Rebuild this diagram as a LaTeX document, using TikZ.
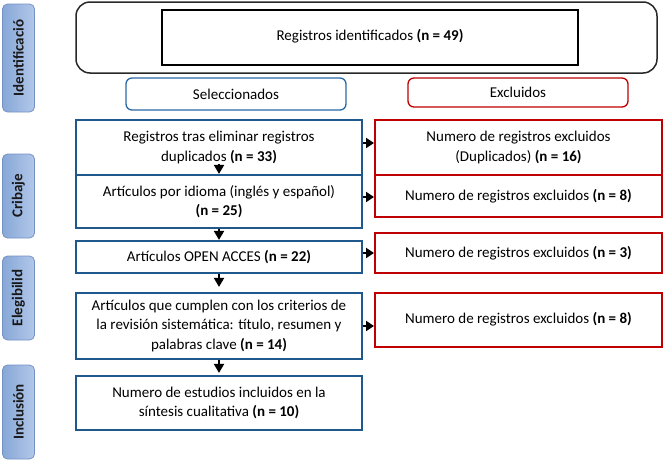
\documentclass[tikz,border=0pt]{standalone}
\usepackage{fontspec}
\setmainfont{Carlito}
\usetikzlibrary{arrows.meta}
\definecolor{boxblue}{RGB}{31,88,140}
\definecolor{selblue}{RGB}{40,105,165}
\definecolor{boxred}{RGB}{192,0,0}
\definecolor{topgray}{RGB}{40,40,40}
\definecolor{lbllight}{RGB}{178,200,234}
\definecolor{lbldark}{RGB}{135,168,215}
\definecolor{lblborder}{RGB}{115,145,195}
\begin{document}
\begin{tikzpicture}[x=1pt,y=-1pt,
  font=\fontsize{15}{19.5}\selectfont,
  lbl/.style={rotate=90, rounded corners=5pt, draw=lblborder, line width=0.8pt,
    right color=lbllight, left color=lbldark, minimum height=32pt, inner sep=0pt,
    font=\fontsize{15}{18}\selectfont\bfseries, text=black!90},
  bluebox/.style={draw=boxblue, line width=2.2pt, minimum width=286pt, inner sep=0pt, align=center},
  redbox/.style={draw=boxred, line width=2pt, minimum width=287pt, inner sep=0pt, align=center},
  varr/.style={-{Triangle[length=9pt,width=10pt]}, line width=2pt, black},
  harr/.style={-{Triangle[length=8pt,width=10pt]}, line width=2.8pt, black}
]
\useasboundingbox (0,0) rectangle (663,461);

% side labels
\node[lbl, minimum width=108pt] (l1) at (18.5,58) {Identificació};
\node[lbl, minimum width=84pt] (l2) at (18.5,196) {Cribaje};
\node[lbl, minimum width=84pt] (l3) at (18.5,298) {Elegibilid};
\node[lbl, minimum width=94pt] (l4) at (18.5,412) {Inclusión};

% identification
\node[draw=topgray, line width=1.5pt, rounded corners=14pt, minimum width=581pt, minimum height=71pt, inner sep=0pt] (top) at (366.5,37.5) {};
\node[draw=black, line width=2.5pt, minimum width=416pt, minimum height=55pt, inner sep=0pt] (ident) at (370,37.5) {\raisebox{5pt}{Registros identificados \textbf{(n = 49)}}};

% headers
\node[draw=selblue, line width=1.3pt, rounded corners=6pt, minimum width=220pt, minimum height=32pt, inner sep=0pt] (sel) at (236,94) {Seleccionados};
\node[draw=boxred, line width=1.3pt, rounded corners=6pt, minimum width=220pt, minimum height=29pt, inner sep=0pt] (exc) at (518,92.5) {Excluidos};

% blue boxes
\node[bluebox, minimum height=55pt] (b1) at (219,147.5) {Registros tras eliminar registros\\ duplicados \textbf{(n = 33)}};
\node[bluebox, minimum height=53pt] (b2) at (219,201.5) {Artículos por idioma (inglés y español)\\ \textbf{(n = 25)}};
\node[bluebox, minimum height=32pt] (b3) at (219,257) {Artículos OPEN ACCES \textbf{(n = 22)}};
\node[bluebox, minimum height=66pt] (b4) at (219,326) {\raisebox{-4pt}{\begin{tabular}{@{}c@{}}Artículos que cumplen con los criterios de\\ la revisión sistemática: título, resumen y\\ palabras clave \textbf{(n = 14)}\end{tabular}}};
\node[bluebox, minimum height=54pt] (b5) at (219,403) {Numero de estudios incluidos en la\\ síntesis cualitativa \textbf{(n = 10)}};

% red boxes
\node[redbox, minimum height=55pt] (r1) at (518.5,147.5) {Numero de registros excluidos\\ (Duplicados) \textbf{(n = 16)}};
\node[redbox, minimum height=42pt] (r2) at (518.5,196) {Numero de registros excluidos \textbf{(n = 8)}};
\node[redbox, minimum height=40pt] (r3) at (518.5,253) {Numero de registros excluidos \textbf{(n = 3)}};
\node[redbox, minimum height=54pt] (r4) at (518.5,320) {\raisebox{5pt}{Numero de registros excluidos \textbf{(n = 8)}}};

% vertical arrows
\draw[varr] ([yshift=12pt]b1.south) -- (b2.north);
\draw[varr] (b2.south) -- (b3.north);
\draw[varr] (b3.south) -- ([yshift=5pt]b4.north);
\draw[varr] (b4.south) -- ([yshift=2pt]b5.north);

% horizontal arrows
\draw[harr] ([yshift=4.5pt]b1.east) -- ([yshift=4.5pt]b1.east -| r1.west);
\draw[harr] ([yshift=-1pt]r2.west -| b2.east) -- ([yshift=-1pt]r2.west);
\draw[harr] (r3.west -| b3.east) -- (r3.west);
\draw[harr] (b4.east) -- (b4.east -| r4.west);
\end{tikzpicture}
\end{document}
